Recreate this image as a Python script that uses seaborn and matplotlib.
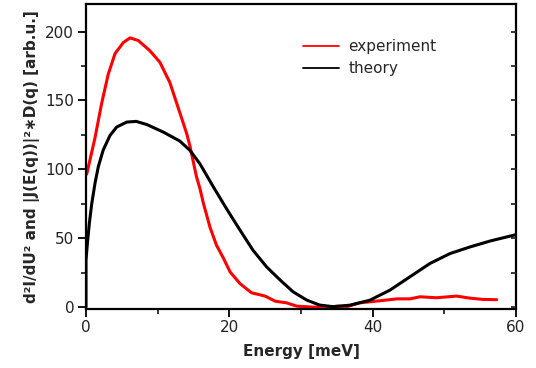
import numpy as np
import pandas as pd
import matplotlib
matplotlib.use("Agg")
import matplotlib.pyplot as plt
from matplotlib.ticker import MultipleLocator
import seaborn as sns

# experiment (red)
exp_E = [0.1, 1.26, 2.19, 3.1, 4.05, 5.2, 6.14, 7.3, 8.93, 10.3, 11.7, 13.1, 14.05, 14.5, 15.4,
         15.9, 16.4, 17.3, 18.2, 19.2, 20.1, 21.5, 23.1, 25.0, 26.4, 28.0, 29.4, 31.7, 34.0,
         35.0, 36.5, 38.2, 41.0, 43.4, 45.2, 46.6, 48.9, 51.7, 53.6, 55.4, 57.3]
exp_val = [96.5, 123, 148, 169, 184, 192, 195.4, 193.5, 186, 177.8, 163, 141, 126, 117, 95,
           86, 75, 58, 45, 35.3, 25.6, 17, 10.4, 8, 4.3, 3.1, 0.7, 0, 0,
           0.7, 0.5, 3.1, 4.6, 6.0, 6.0, 7.5, 6.8, 8.0, 6.5, 5.6, 5.4]

# theory (black)
th_E = [0.0, 0.0, 0.19, 0.47, 0.8, 1.26, 1.72, 2.4, 3.35, 4.28, 5.68, 7.0, 8.5, 10.8, 13.1,
        14.5, 15.9, 17.8, 19.6, 21.5, 23.3, 25.2, 27.1, 28.9, 30.8, 32.6, 34.5, 36.8, 39.6,
        42.4, 45.2, 48.0, 50.8, 53.6, 56.4, 60.0]
th_val = [0, 34, 46, 61, 75, 90, 102, 114, 124.6, 130.7, 134.3, 134.8, 132.5, 127, 120.5,
          113.8, 104, 87, 71.5, 55.8, 41.3, 29.2, 19.6, 11.1, 5.1, 1.5, 0.3, 1.4, 5,
          12.3, 22, 31.7, 38.9, 43.7, 48, 52.6]

df = pd.concat([
    pd.DataFrame({"E": exp_E, "val": exp_val, "series": "experiment"}),
    pd.DataFrame({"E": th_E, "val": th_val, "series": "theory"}),
])

sns.set_style("ticks")
plt.rcParams["font.family"] = ["DejaVu Sans"]

fig = plt.figure(figsize=(5.36, 3.68), dpi=100)
ax = fig.add_axes([86/536, 1-308.5/368, (516-86)/536, (308.5-4)/368])

sns.lineplot(data=df, x="E", y="val", hue="series", palette={"experiment": "#ff0000", "theory": "#000000"},
             linewidth=2.2, ax=ax, sort=False, estimator=None)
for ln in ax.get_lines():
    ln.set_solid_joinstyle("round")

ax.set_xlim(0, 60)
ax.set_ylim(-1, 220)
ax.xaxis.set_major_locator(MultipleLocator(20))
ax.xaxis.set_minor_locator(MultipleLocator(10))
ax.yaxis.set_major_locator(MultipleLocator(50))
ax.yaxis.set_minor_locator(MultipleLocator(25))
ax.tick_params(which="major", length=5.5, width=1.3, labelsize=11, color="black", labelcolor="#222222", pad=3)
ax.tick_params(which="minor", length=3.5, width=1.3)
for s in ax.spines.values():
    s.set_linewidth(1.6)
    s.set_color("black")
    s.set_visible(True)

ax2 = ax.twinx()
ax2.set_ylim(-1, 220)
ax2.yaxis.set_major_locator(MultipleLocator(25))
ax2.tick_params(axis="y", direction="in", length=3.5, width=1.3, labelright=False)
for s in ax2.spines.values():
    s.set_visible(False)

ax.set_xlabel("Energy [meV]", fontsize=11, fontweight="bold", labelpad=6)
ax.set_ylabel("d²I/dU² and |J(E(q))|²∗D(q) [arb.u.]", fontsize=11, fontweight="bold", labelpad=4)

leg = ax.legend(loc="upper left", bbox_to_anchor=(0.472, 0.93), frameon=False, fontsize=11,
                handlelength=2.4, handletextpad=0.6, labelspacing=0.45)
for line in leg.get_lines():
    line.set_linewidth(1.3)

fig.savefig("out.png", dpi=100)
